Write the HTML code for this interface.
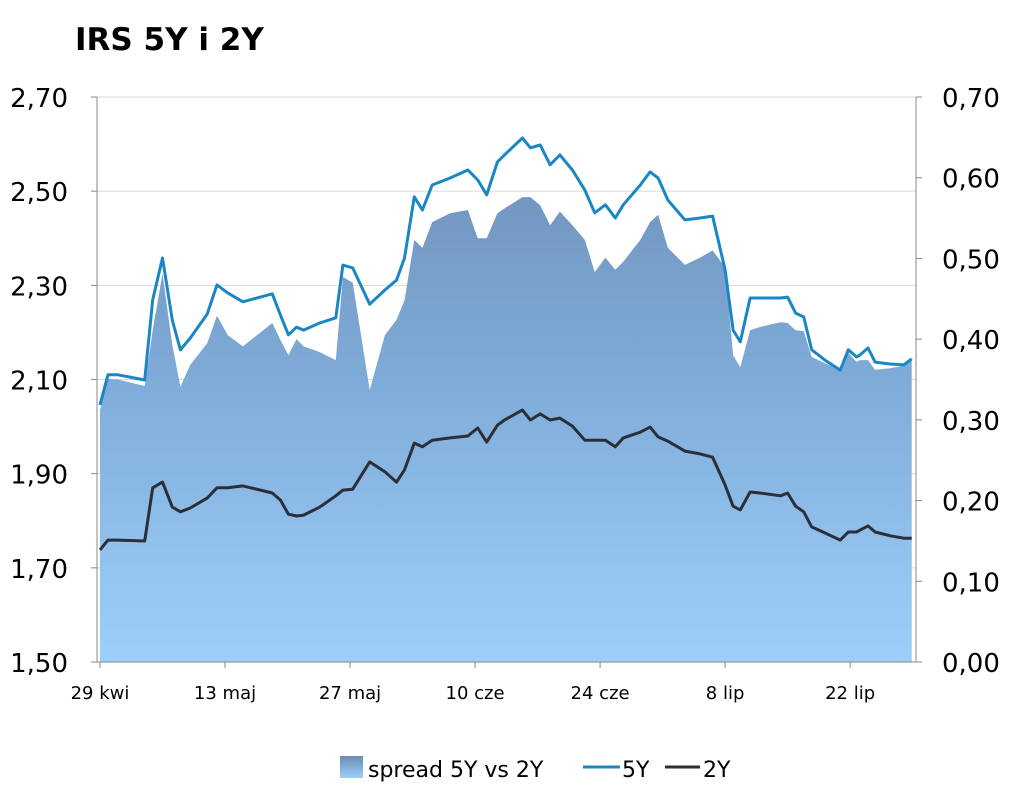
<!DOCTYPE html>
<html><head><meta charset="utf-8"><style>
body{margin:0;background:#fff;}
svg{display:block;font-family:"DejaVu Sans","Liberation Sans",sans-serif;}
</style></head><body>
<svg id="chart" width="1024" height="791" viewBox="0 0 1024 791">
<defs><linearGradient id="ag" gradientUnits="userSpaceOnUse" x1="0" y1="97" x2="0" y2="662">
<stop offset="0" stop-color="#6b8db4"/><stop offset="0.5" stop-color="#7fabd8"/><stop offset="1" stop-color="#9dcffa"/></linearGradient></defs>
<text x="75" y="50" font-size="31" font-weight="bold" fill="#000">IRS 5Y i 2Y</text>
<g id="grid"></g><g id="area"></g><g id="lines"></g><g id="axes"></g>
<g>
<rect x="340" y="756" width="23" height="22" fill="url(#lg)"/>
<linearGradient id="lg" x1="0" y1="0" x2="0" y2="1"><stop offset="0" stop-color="#6b8db4"/><stop offset="1" stop-color="#9dcffa"/></linearGradient>
<text x="368" y="777" font-size="22">spread 5Y vs 2Y</text>
<line x1="583" y1="767" x2="620" y2="767" stroke="#1a87c4" stroke-width="3"/>
<text x="622" y="777" font-size="22">5Y</text>
<line x1="665" y1="767" x2="700" y2="767" stroke="#2b2f38" stroke-width="3"/>
<text x="703" y="777" font-size="22">2Y</text>
</g>
</svg>
<script>
const days=[0,0.9,2.0,5.0,5.9,7.0,8.1,9.0,10.1,12.0,13.1,14.3,16.0,19.3,20.2,21.1,22.0,22.8,24.6,26.4,27.2,28.3,30.2,31.9,33.2,34.1,35.2,36.1,37.2,39.2,41.2,42.3,43.3,44.5,45.3,47.3,48.2,49.3,50.4,51.5,52.9,54.3,55.4,56.6,57.7,58.6,60.5,61.6,62.5,63.6,65.5,67.2,68.6,70.0,70.9,71.7,72.8,73.9,76.2,77.0,77.9,78.8,79.7,81.2,82.9,83.8,84.7,85.1,86.0,86.8,88.5,90.0,90.9];
const y5=[2.046,2.110,2.110,2.099,2.269,2.358,2.226,2.163,2.188,2.239,2.301,2.284,2.265,2.282,2.237,2.195,2.211,2.205,2.220,2.231,2.343,2.337,2.260,2.290,2.311,2.358,2.488,2.460,2.513,2.528,2.545,2.524,2.492,2.562,2.577,2.613,2.592,2.598,2.556,2.577,2.545,2.502,2.454,2.471,2.443,2.471,2.513,2.541,2.528,2.481,2.439,2.443,2.447,2.333,2.205,2.180,2.273,2.273,2.273,2.275,2.241,2.233,2.163,2.141,2.120,2.163,2.148,2.152,2.167,2.137,2.133,2.131,2.144];
const y2=[1.738,1.759,1.759,1.757,1.870,1.882,1.829,1.819,1.827,1.848,1.870,1.870,1.874,1.859,1.844,1.814,1.810,1.812,1.829,1.853,1.865,1.867,1.925,1.904,1.882,1.908,1.965,1.957,1.971,1.976,1.980,1.997,1.967,2.003,2.014,2.035,2.014,2.027,2.014,2.018,2.001,1.971,1.971,1.971,1.957,1.976,1.988,1.999,1.978,1.969,1.948,1.942,1.935,1.876,1.831,1.823,1.861,1.859,1.853,1.859,1.831,1.819,1.787,1.774,1.759,1.776,1.776,1.780,1.789,1.776,1.768,1.763,1.763];
const spread=[0.312,0.351,0.350,0.342,0.411,0.481,0.393,0.341,0.368,0.395,0.429,0.405,0.391,0.420,0.399,0.380,0.400,0.391,0.384,0.374,0.477,0.470,0.337,0.405,0.424,0.448,0.523,0.513,0.545,0.556,0.560,0.525,0.525,0.556,0.562,0.576,0.576,0.566,0.541,0.558,0.541,0.523,0.483,0.501,0.486,0.496,0.523,0.545,0.554,0.513,0.492,0.501,0.510,0.489,0.380,0.365,0.411,0.415,0.421,0.420,0.411,0.410,0.378,0.370,0.362,0.383,0.372,0.374,0.374,0.362,0.364,0.367,0.374];
const leftTicks=["1,50","1,70","1,90","2,10","2,30","2,50","2,70"];
const rightTicks=["0,00","0,10","0,20","0,30","0,40","0,50","0,60","0,70"];
const xLabels=["29 kwi","13 maj","27 maj","10 cze","24 cze","8 lip","22 lip"];
const xLabelDays=[0,14,28,42,56,70,84];

const NS="http://www.w3.org/2000/svg";
const X0=100,DX=8.93,YT=97,YB=662;
const xs=d=>X0+d*DX;
const yl=v=>YB-(v-1.5)/1.2*(YB-YT);
const yr=v=>YB-v/0.7*(YB-YT);
function mk(tag,attrs,parent){const e=document.createElementNS(NS,tag);for(const k in attrs)e.setAttribute(k,attrs[k]);parent.appendChild(e);return e;}
const grid=document.getElementById('grid'),area=document.getElementById('area'),lines=document.getElementById('lines'),axes=document.getElementById('axes');

leftTicks.forEach((t,i)=>{const v=1.5+i*0.2,y=yl(v);
 if(i>0){const g=mk('line',{x1:97,x2:916,y1:y,y2:y,stroke:'#d9d9d9','stroke-width':1},grid);
 
 }
 const tk=mk('line',{x1:91,x2:97,y1:y,y2:y,stroke:'#888'},axes);
 
 
 const tx=mk('text',{x:68,y:y+10,'font-size':26,'text-anchor':'end'},axes);tx.textContent=t;
 
 
});
rightTicks.forEach((t,i)=>{const v=i*0.1,y=yr(v);
 const tk=mk('line',{x1:916,x2:922,y1:y,y2:y,stroke:'#888'},axes);
 
 
 const tx=mk('text',{x:942,y:y+10,'font-size':26},axes);tx.textContent=t;
 
 
});
xLabels.forEach((t,i)=>{const x=xs(xLabelDays[i]);
 const tk=mk('line',{x1:x,x2:x,y1:662,y2:668,stroke:'#888'},axes);
 
 
 const tx=mk('text',{x:x,y:699,'font-size':18,'text-anchor':'middle'},axes);tx.textContent=t;
 
 
});
let ad='M'+xs(days[0])+','+YB;
days.forEach((d,i)=>{ad+=' L'+xs(d).toFixed(1)+','+yr(spread[i]).toFixed(1);});
ad+=' L'+xs(days[days.length-1])+','+YB+' Z';
const ap=mk('path',{d:ad,fill:'url(#ag)'},area);


function line(vals,color,name){const p=mk('polyline',{points:days.map((d,i)=>xs(d).toFixed(1)+','+yl(vals[i]).toFixed(1)).join(' '),fill:'none',stroke:color,'stroke-width':3,'stroke-linejoin':'round'},lines);
 
 }
line(y5,'#1a87c4','line-5y');
line(y2,'#2b2f38','line-2y');
const la=mk('line',{x1:97,x2:97,y1:97,y2:662,stroke:'#888'},axes);


const ra=mk('line',{x1:916,x2:916,y1:97,y2:662,stroke:'#888'},axes);


const ba=mk('line',{x1:97,x2:916,y1:662,y2:662,stroke:'#888'},axes);


</script>
</body></html>
